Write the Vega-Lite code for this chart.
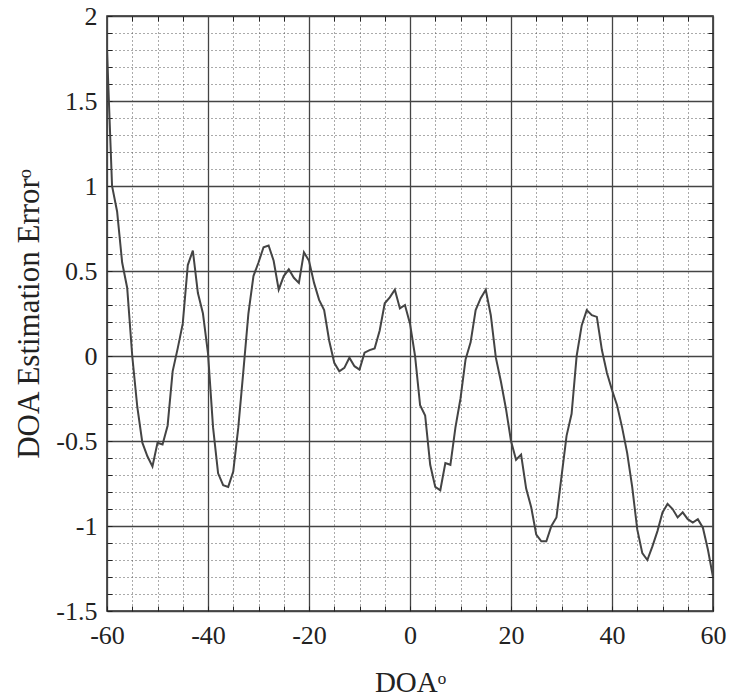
{
  "$schema": "https://vega.github.io/schema/vega-lite/v6.json",
  "width": 606,
  "height": 595,
  "autosize": {"type": "none"},
  "padding": {"left": 107, "top": 16, "right": 16, "bottom": 88},
  "background": "white",
  "config": {
    "view": {"stroke": "#222", "strokeWidth": 1.5},
    "font": "Liberation Serif",
    "axis": {"labelFont": "Liberation Serif", "titleFont": "Liberation Serif", "domain": false}
  },
  "data": {
    "values": [
      {"doa": -60, "err": 1.8}, {"doa": -59, "err": 1.0}, {"doa": -58, "err": 0.85}, {"doa": -57, "err": 0.55},
      {"doa": -56, "err": 0.4}, {"doa": -55, "err": 0.0}, {"doa": -54, "err": -0.3}, {"doa": -53, "err": -0.51},
      {"doa": -52, "err": -0.59}, {"doa": -51, "err": -0.65}, {"doa": -50, "err": -0.51}, {"doa": -49, "err": -0.52},
      {"doa": -48, "err": -0.41}, {"doa": -47, "err": -0.09}, {"doa": -46, "err": 0.045}, {"doa": -45, "err": 0.19},
      {"doa": -44, "err": 0.535}, {"doa": -43, "err": 0.62}, {"doa": -42, "err": 0.37}, {"doa": -41, "err": 0.25},
      {"doa": -40, "err": 0.015}, {"doa": -39, "err": -0.42}, {"doa": -38, "err": -0.69}, {"doa": -37, "err": -0.76},
      {"doa": -36, "err": -0.77}, {"doa": -35, "err": -0.68}, {"doa": -34, "err": -0.42}, {"doa": -33, "err": -0.09},
      {"doa": -32, "err": 0.25}, {"doa": -31, "err": 0.47}, {"doa": -30, "err": 0.55}, {"doa": -29, "err": 0.64},
      {"doa": -28, "err": 0.65}, {"doa": -27, "err": 0.56}, {"doa": -26, "err": 0.39}, {"doa": -25, "err": 0.47},
      {"doa": -24, "err": 0.51}, {"doa": -23, "err": 0.46}, {"doa": -22, "err": 0.43}, {"doa": -21, "err": 0.61},
      {"doa": -20, "err": 0.56}, {"doa": -19, "err": 0.43}, {"doa": -18, "err": 0.33}, {"doa": -17, "err": 0.27},
      {"doa": -16, "err": 0.09}, {"doa": -15, "err": -0.04}, {"doa": -14, "err": -0.09}, {"doa": -13, "err": -0.07},
      {"doa": -12, "err": -0.01}, {"doa": -11, "err": -0.06}, {"doa": -10, "err": -0.08}, {"doa": -9, "err": 0.02},
      {"doa": -8, "err": 0.035}, {"doa": -7, "err": 0.045}, {"doa": -6, "err": 0.15}, {"doa": -5, "err": 0.31},
      {"doa": -4, "err": 0.345}, {"doa": -3, "err": 0.39}, {"doa": -2, "err": 0.28}, {"doa": -1, "err": 0.3},
      {"doa": 0, "err": 0.19}, {"doa": 1, "err": 0.0}, {"doa": 2, "err": -0.29}, {"doa": 3, "err": -0.35},
      {"doa": 4, "err": -0.64}, {"doa": 5, "err": -0.77}, {"doa": 6, "err": -0.79}, {"doa": 7, "err": -0.63},
      {"doa": 8, "err": -0.64}, {"doa": 9, "err": -0.42}, {"doa": 10, "err": -0.25}, {"doa": 11, "err": -0.02},
      {"doa": 12, "err": 0.08}, {"doa": 13, "err": 0.27}, {"doa": 14, "err": 0.34}, {"doa": 15, "err": 0.39},
      {"doa": 16, "err": 0.24}, {"doa": 17, "err": -0.01}, {"doa": 18, "err": -0.15}, {"doa": 19, "err": -0.31},
      {"doa": 20, "err": -0.5}, {"doa": 21, "err": -0.61}, {"doa": 22, "err": -0.58}, {"doa": 23, "err": -0.78},
      {"doa": 24, "err": -0.89}, {"doa": 25, "err": -1.05}, {"doa": 26, "err": -1.09}, {"doa": 27, "err": -1.09},
      {"doa": 28, "err": -1.0}, {"doa": 29, "err": -0.95}, {"doa": 30, "err": -0.71}, {"doa": 31, "err": -0.47},
      {"doa": 32, "err": -0.34}, {"doa": 33, "err": 0.0}, {"doa": 34, "err": 0.18}, {"doa": 35, "err": 0.27},
      {"doa": 36, "err": 0.24}, {"doa": 37, "err": 0.23}, {"doa": 38, "err": 0.035}, {"doa": 39, "err": -0.1},
      {"doa": 40, "err": -0.2}, {"doa": 41, "err": -0.29}, {"doa": 42, "err": -0.42}, {"doa": 43, "err": -0.57},
      {"doa": 44, "err": -0.77}, {"doa": 45, "err": -1.02}, {"doa": 46, "err": -1.16}, {"doa": 47, "err": -1.2},
      {"doa": 48, "err": -1.12}, {"doa": 49, "err": -1.03}, {"doa": 50, "err": -0.92}, {"doa": 51, "err": -0.87},
      {"doa": 52, "err": -0.9}, {"doa": 53, "err": -0.95}, {"doa": 54, "err": -0.92}, {"doa": 55, "err": -0.96},
      {"doa": 56, "err": -0.98}, {"doa": 57, "err": -0.96}, {"doa": 58, "err": -1.01}, {"doa": 59, "err": -1.14},
      {"doa": 60, "err": -1.3}
    ]
  },
  "resolve": {"axis": {"x": "independent", "y": "independent"}},
  "layer": [
    {
      "mark": {"type": "line", "color": "#444", "strokeWidth": 2, "clip": true},
      "encoding": {
        "x": {
          "field": "doa", "type": "quantitative",
          "scale": {"domain": [-60, 60], "nice": false, "zero": false},
          "axis": {
            "orient": "bottom",
            "values": [-60, -55, -50, -45, -40, -35, -30, -25, -20, -15, -10, -5, 0, 5, 10, 15, 20, 25, 30, 35, 40, 45, 50, 55, 60],
            "labelExpr": "datum.value % 20 === 0 ? toString(datum.value) : ''",
            "labelFontSize": 26, "labelColor": "#222", "labelPadding": 16, "labelFlush": false,
            "tickSize": -5, "tickColor": "#222", "tickWidth": 1,
            "grid": true,
            "gridColor": {"condition": {"test": "datum.value % 20 === 0", "value": "#444"}, "value": "#555"},
            "gridDash": {"condition": {"test": "datum.value % 20 === 0", "value": []}, "value": [1, 3]},
            "gridWidth": {"condition": {"test": "datum.value % 20 === 0", "value": 1.3}, "value": 1},
            "title": "DOAᵒ", "titleFontSize": 29, "titleFontWeight": "normal", "titleColor": "#222", "titlePadding": 20
          }
        },
        "y": {
          "field": "err", "type": "quantitative",
          "scale": {"domain": [-1.5, 2], "nice": false, "zero": false},
          "axis": {
            "orient": "left",
            "values": [-1.5, -1.4, -1.3, -1.2, -1.1, -1, -0.9, -0.8, -0.7, -0.6, -0.5, -0.4, -0.3, -0.2, -0.1, 0, 0.1, 0.2, 0.3, 0.4, 0.5, 0.6, 0.7, 0.8, 0.9, 1, 1.1, 1.2, 1.3, 1.4, 1.5, 1.6, 1.7, 1.8, 1.9, 2],
            "labelExpr": "abs(datum.value * 2 - round(datum.value * 2)) < 0.000001 ? toString(datum.value) : ''",
            "labelFontSize": 26, "labelColor": "#222", "labelPadding": 15, "labelFlush": false,
            "tickSize": -5, "tickColor": "#222", "tickWidth": 1,
            "grid": true,
            "gridColor": {"condition": {"test": "abs(datum.value * 2 - round(datum.value * 2)) < 0.000001", "value": "#444"}, "value": "#555"},
            "gridDash": {"condition": {"test": "abs(datum.value * 2 - round(datum.value * 2)) < 0.000001", "value": []}, "value": [1, 3]},
            "gridWidth": {"condition": {"test": "abs(datum.value * 2 - round(datum.value * 2)) < 0.000001", "value": 1.3}, "value": 1},
            "title": "DOA Estimation Errorᵒ", "titleFontSize": 31, "titleFontWeight": "normal", "titleColor": "#222", "titlePadding": 10
          }
        }
      }
    },
    {
      "mark": {"type": "line", "strokeOpacity": 0},
      "encoding": {
        "x": {
          "field": "doa", "type": "quantitative",
          "axis": {
            "orient": "top",
            "values": [-55, -50, -45, -35, -30, -25, -15, -10, -5, 5, 10, 15, 25, 30, 35, 45, 50, 55],
            "labels": false, "grid": false, "title": null,
            "tickSize": -5, "tickColor": "#222", "tickWidth": 1
          }
        },
        "y": {
          "field": "err", "type": "quantitative",
          "axis": {
            "orient": "right",
            "values": [-1.4, -1.3, -1.2, -1.1, -0.9, -0.8, -0.7, -0.6, -0.4, -0.3, -0.2, -0.1, 0.1, 0.2, 0.3, 0.4, 0.6, 0.7, 0.8, 0.9, 1.1, 1.2, 1.3, 1.4, 1.6, 1.7, 1.8, 1.9],
            "labels": false, "grid": false, "title": null,
            "tickSize": -5, "tickColor": "#222", "tickWidth": 1
          }
        }
      }
    }
  ]
}
